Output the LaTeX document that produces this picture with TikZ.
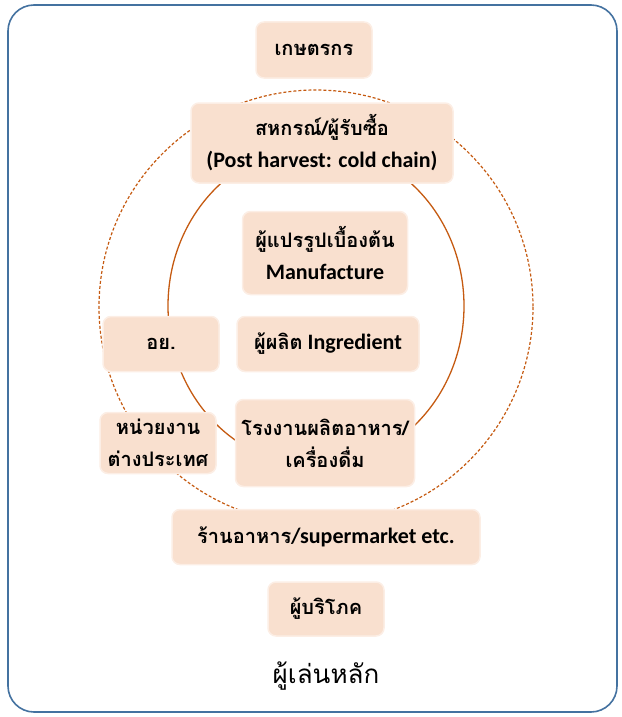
\documentclass[tikz,border=0pt]{standalone}
\usepackage{fontspec}
\setmainfont{Carlito}[Scale=1.1]
\newfontfamily\thaifont[Script=Thai]{Loma}
\newcommand{\thai}[1]{{\thaifont #1}}
\definecolor{peach}{RGB}{249,224,207}
\definecolor{rust}{RGB}{197,90,17}
\definecolor{frameblue}{RGB}{68,114,160}
\begin{document}
\begin{tikzpicture}[x=1pt,y=-1pt,
  every node/.style={inner sep=0pt,align=center,font=\fontsize{20}{32}\selectfont\bfseries},
  player/.style={fill=peach,draw=peach!55!white,line width=1.5pt,rounded corners=8pt}]
\useasboundingbox (0,0) rectangle (621,717);
\draw [frameblue,line width=1.6pt,rounded corners=26pt] (8,5) rectangle (617,712);
% rings
\draw [rust,line width=1.2pt,dash pattern=on 3pt off 2pt] (316,307) circle (217);
\draw [rust,line width=1.3pt] (316,306) ellipse (148 and 160);
% actors
\node [player,minimum width=116,minimum height=56] (farmer) at (314,50) {\thai{เกษตรกร}};
\node [player,minimum width=262,minimum height=80] (coop) at (322,143) {\thai{สหกรณ์/ผู้รับซื้อ}\\(Post harvest: cold chain)};
\node [player,minimum width=165,minimum height=83] (prim) at (325,253) {\thai{ผู้แปรรูปเบื้องต้น}\\Manufacture};
\node [player,minimum width=116,minimum height=55] (fda) at (161,344) {\thai{อย.}};
\node [player,minimum width=182,minimum height=55] (ingr) at (328,344) {\thai{ผู้ผลิต} Ingredient};
\node [player,minimum width=116,minimum height=61] (abroad) at (158,443) {\thai{หน่วยงาน}\\\thai{ต่างประเทศ}};
\node [player,minimum width=179,minimum height=87] (plant) at (325,443) {\thai{โรงงานผลิตอาหาร/}\\\thai{เครื่องดื่ม}};
\node [player,minimum width=308,minimum height=55] (shop) at (326,537) {\thai{ร้านอาหาร}/supermarket etc.};
\node [player,minimum width=116,minimum height=54] (buyer) at (326,609) {\thai{ผู้บริโภค}};
\node [font=\fontsize{26}{30}\selectfont] (title) at (326,676) {\thai{ผู้เล่นหลัก}};
\end{tikzpicture}
\end{document}
